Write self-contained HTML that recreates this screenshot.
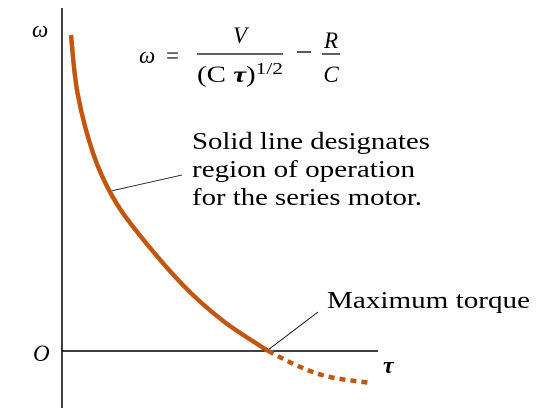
<!DOCTYPE html>
<html><head><meta charset="utf-8"><style>
body{margin:0;background:#fff;}
svg{display:block;font-family:"Liberation Serif",serif;}
</style></head><body>
<svg width="560" height="420" viewBox="0 0 560 420">
<line x1="62" y1="8" x2="62" y2="408" stroke="#000" stroke-width="1.5"/>
<line x1="62" y1="351" x2="378" y2="351" stroke="#000" stroke-width="1.5"/>
<text x="32" y="37" font-size="23" font-style="italic">ω</text>
<text x="33" y="361" font-size="23" font-style="italic">O</text>
<text x="383" y="373" font-size="24" font-style="italic" font-weight="bold">τ</text>
<g font-size="23">
<text x="139" y="63" font-style="italic">ω</text>
<text x="166" y="63">=</text>
<text x="240" y="43" font-style="italic" text-anchor="middle">V</text>
<line x1="197" y1="54" x2="283" y2="54" stroke="#000" stroke-width="1.2"/>
<text x="197" y="82" textLength="86" lengthAdjust="spacingAndGlyphs">(C <tspan font-style="italic" font-weight="bold">τ</tspan>)<tspan font-size="17" dy="-8">1/2</tspan></text>
<line x1="297" y1="52" x2="311" y2="52" stroke="#000" stroke-width="1.3"/>
<text x="331" y="48" font-style="italic" text-anchor="middle">R</text>
<line x1="322" y1="54" x2="340" y2="54" stroke="#000" stroke-width="1.2"/>
<text x="331" y="82" font-style="italic" text-anchor="middle">C</text>
</g>
<g font-size="24">
<text x="192" y="149" textLength="238" lengthAdjust="spacingAndGlyphs">Solid line designates</text>
<text x="192" y="177" textLength="223" lengthAdjust="spacingAndGlyphs">region of operation</text>
<text x="192" y="205" textLength="230" lengthAdjust="spacingAndGlyphs">for the series motor.</text>
</g>
<line x1="111" y1="191" x2="182" y2="175" stroke="#000" stroke-width="0.8"/>
<text x="327" y="308" font-size="24" textLength="203" lengthAdjust="spacingAndGlyphs">Maximum torque</text>
<line x1="268" y1="350" x2="318" y2="312" stroke="#000" stroke-width="0.8"/>
<g id="curves"></g>
</svg>
<script>
const tauSolid=[0.29,0.5,1.0,1.6,2.4,3.9,5.2,6.65];
const omegaSolid=[10.53,8.6,6.6,5.2,4.0,2.2,1.0,0];
const tauDashed=[6.65,7.68,8.65,10];
const omegaDashed=[0,-0.53,-0.87,-1.07];
const xs=t=>62+t*31, ys=w=>351-w*30;
function pathFrom(T,W){
  const p=T.map((t,i)=>[xs(t),ys(W[i])]);
  let d="M"+p[0][0]+","+p[0][1];
  for(let i=0;i<p.length-1;i++){
    const p0=p[i-1]||p[i],p1=p[i],p2=p[i+1],p3=p[i+2]||p2;
    const c1=[p1[0]+(p2[0]-p0[0])/6,p1[1]+(p2[1]-p0[1])/6];
    const c2=[p2[0]-(p3[0]-p1[0])/6,p2[1]-(p3[1]-p1[1])/6];
    d+=" C"+c1+" "+c2+" "+p2;
  }
  return d;
}
const g=document.getElementById('curves');
const ns="http://www.w3.org/2000/svg";
const s=document.createElementNS(ns,'path');
s.setAttribute('d',pathFrom(tauSolid,omegaSolid));
s.setAttribute('fill','none');s.setAttribute('stroke','#c0560f');s.setAttribute('stroke-width','4.5');


g.appendChild(s);
const d=document.createElementNS(ns,'path');
d.setAttribute('d',pathFrom(tauDashed,omegaDashed));
d.setAttribute('fill','none');d.setAttribute('stroke','#c0560f');d.setAttribute('stroke-width','4.5');
d.setAttribute('stroke-dasharray','6,5');


g.appendChild(d);
</script>
</body></html>
